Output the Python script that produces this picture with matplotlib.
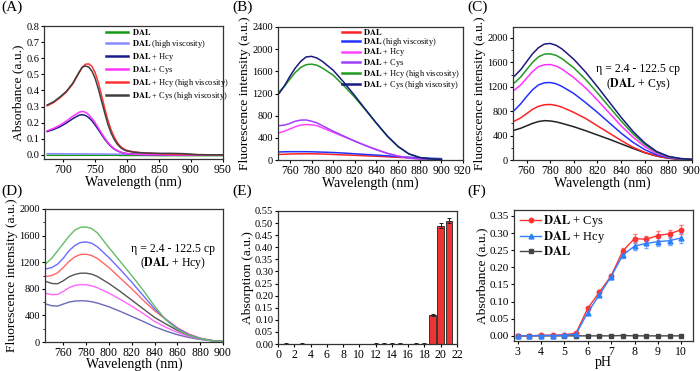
import matplotlib
matplotlib.use("Agg")
import matplotlib.pyplot as plt
from matplotlib.ticker import MultipleLocator

plt.rcParams['font.family'] = ['Liberation Serif', 'DejaVu Serif']
plt.rcParams['mathtext.fontset'] = 'stix'

# ---------------- Panel A data ----------------
wl_a = [675, 685, 695, 705, 715, 725, 730, 735, 740, 745, 750, 755, 760, 765, 770,
        775, 780, 785, 790, 795, 800, 810, 820, 830, 850, 870, 890, 910, 930, 950]
a_dal = [-0.002, -0.002, -0.002, -0.002, -0.002, -0.002, -0.002, -0.002, -0.002, -0.002,
         -0.002, -0.002, -0.002, -0.002, -0.002, -0.002, -0.002, -0.002, -0.003, -0.003,
         -0.003, -0.003, -0.003, -0.003, -0.004, -0.004, -0.004, -0.004, -0.004, -0.004]
a_dal_hv = [0.008, 0.008, 0.008, 0.007, 0.007, 0.007, 0.007, 0.007, 0.006, 0.006,
            0.006, 0.006, 0.006, 0.006, 0.005, 0.005, 0.005, 0.005, 0.005, 0.004,
            0.004, 0.004, 0.004, 0.003, 0.003, 0.002, 0.002, 0.001, 0.001, 0.001]
a_hcy = [0.145, 0.158, 0.175, 0.198, 0.225, 0.247, 0.250, 0.245, 0.232, 0.212,
         0.186, 0.157, 0.127, 0.098, 0.073, 0.052, 0.036, 0.025, 0.017, 0.011,
         0.008, 0.005, 0.003, 0.002, 0.001, 0.0, 0.0, 0.0, 0.0, 0.0]
a_cys = [0.150, 0.165, 0.185, 0.210, 0.240, 0.265, 0.270, 0.265, 0.250, 0.228,
         0.200, 0.168, 0.136, 0.105, 0.078, 0.056, 0.039, 0.027, 0.018, 0.012,
         0.008, 0.005, 0.003, 0.002, 0.001, 0.0, 0.0, 0.0, 0.0, 0.0]
a_hcy_hv = [0.305, 0.325, 0.355, 0.390, 0.440, 0.510, 0.545, 0.563, 0.565, 0.550,
            0.510, 0.450, 0.370, 0.290, 0.215, 0.155, 0.110, 0.075, 0.052, 0.037,
            0.028, 0.020, 0.015, 0.012, 0.008, 0.005, 0.003, 0.002, 0.001, 0.001]
a_cys_hv = [0.310, 0.330, 0.360, 0.395, 0.445, 0.515, 0.545, 0.552, 0.545, 0.520,
            0.475, 0.410, 0.335, 0.260, 0.190, 0.135, 0.095, 0.065, 0.045, 0.032,
            0.024, 0.017, 0.014, 0.012, 0.010, 0.010, 0.008, 0.002, 0.001, 0.001]

# ---------------- Panel B data ----------------
wl_b = [745, 750, 755, 760, 765, 770, 775, 780, 785, 790, 800, 810, 820, 830, 840,
        850, 860, 870, 880, 890, 900]
b_dal = [95, 100, 104, 108, 110, 112, 112, 112, 110, 108, 100, 92, 85, 76, 68, 58, 48, 38, 30, 22, 15]
b_dal_hv = [140, 145, 148, 150, 150, 150, 150, 148, 145, 142, 135, 125, 112, 100, 88, 75, 62, 50, 40, 32, 25]
b_hcy = [480, 490, 520, 560, 600, 630, 640, 635, 620, 580, 500, 420, 340, 260, 190, 120, 70, 35, 20, 10, 5]
b_cys = [640, 620, 630, 660, 700, 720, 722, 700, 670, 620, 520, 430, 340, 260, 185, 120, 70, 35, 20, 10, 5]
b_hcy_hv = [1180, 1230, 1330, 1460, 1580, 1670, 1720, 1730, 1710, 1660, 1530, 1340, 1130, 900,
            660, 430, 240, 110, 45, 20, 10]
b_cys_hv = [1110, 1200, 1340, 1510, 1660, 1780, 1860, 1870, 1840, 1780, 1620, 1400, 1160, 910,
            665, 435, 245, 110, 45, 20, 10]

# ---------------- Panel C data (DAL + Cys, increasing viscosity) ----------------
c_1 = [480, 490, 520, 560, 600, 630, 645, 640, 625, 600, 545, 480, 410, 340, 265, 190, 120, 65, 30, 12, 5]
c_2 = [620, 640, 690, 760, 830, 880, 905, 910, 895, 865, 780, 680, 560, 440, 320, 210, 125, 65, 30, 12, 5]
c_3 = [760, 820, 920, 1040, 1150, 1230, 1265, 1270, 1250, 1205, 1090, 940, 780, 610, 440, 290, 170, 85, 38, 15, 6]
c_4 = [1100, 1150, 1230, 1340, 1450, 1530, 1560, 1565, 1540, 1490, 1350, 1180, 980, 770, 560, 375, 220, 110, 48, 20, 8]
c_5 = [1210, 1270, 1360, 1480, 1600, 1690, 1735, 1740, 1715, 1660, 1510, 1320, 1100, 870, 640, 430, 255, 130, 55, 22, 10]
c_6 = [1320, 1380, 1480, 1610, 1740, 1840, 1900, 1910, 1880, 1820, 1650, 1440, 1200, 950, 700, 470, 280, 140, 60, 25, 10]

# ---------------- Panel D data (DAL + Hcy, increasing viscosity) ----------------
d_1 = [570, 545, 540, 570, 600, 615, 620, 618, 605, 585, 530, 460, 385, 310, 230, 165, 110, 68, 38, 18, 8]
d_2 = [730, 712, 715, 760, 815, 850, 862, 860, 845, 815, 735, 640, 540, 430, 310, 220, 145, 85, 45, 20, 8]
d_3 = [910, 880, 875, 920, 980, 1015, 1035, 1035, 1020, 985, 880, 760, 630, 500, 370, 270, 175, 100, 52, 22, 8]
d_4 = [985, 1000, 1040, 1120, 1210, 1280, 1315, 1320, 1300, 1255, 1120, 960, 800, 630, 470, 340, 215, 120, 58, 24, 8]
d_5 = [1100, 1120, 1170, 1260, 1370, 1450, 1495, 1505, 1485, 1430, 1270, 1090, 900, 700, 500, 340, 205, 110, 55, 22, 8]
d_6 = [1180, 1260, 1370, 1480, 1590, 1680, 1725, 1730, 1705, 1640, 1420, 1210, 1000, 780, 540, 330, 190, 100, 50, 20, 8]

# ---------------- Panel E data ----------------
e_idx = list(range(1, 22))
e_val = [0.002, 0.001, 0.002, 0.001, 0.001, 0.001, 0.001, 0.001, 0.0, 0.001, 0.001,
         0.002, 0.002, 0.002, 0.002, 0.001, 0.002, 0.002, 0.120, 0.490, 0.510]
e_err = [0.001] * 18 + [0.003, 0.010, 0.010]

# ---------------- Panel F data ----------------
ph = [3, 3.5, 4, 4.5, 5, 5.5, 6, 6.5, 7, 7.5, 8, 8.5, 9, 9.5, 10]
f_cys = [0.000, 0.000, 0.002, 0.002, 0.003, 0.008, 0.080, 0.128, 0.175, 0.248, 0.284, 0.282, 0.293, 0.298, 0.310]
f_cys_err = [0.001, 0.001, 0.001, 0.001, 0.001, 0.002, 0.004, 0.005, 0.006, 0.010, 0.012, 0.011, 0.012, 0.012, 0.013]
f_hcy = [0.000, 0.000, 0.001, 0.001, 0.002, 0.005, 0.068, 0.120, 0.173, 0.236, 0.262, 0.270, 0.275, 0.278, 0.286]
f_hcy_err = [0.001, 0.001, 0.001, 0.001, 0.001, 0.002, 0.004, 0.005, 0.006, 0.010, 0.012, 0.013, 0.013, 0.012, 0.014]
f_dal = [0.000, 0.000, 0.000, 0.000, 0.000, 0.000, 0.000, 0.000, 0.000, 0.001, 0.000, 0.000, 0.000, 0.000, 0.000]

legend_labels = [r'$\mathbf{DAL}$', r'$\mathbf{DAL}$ (high viscosity)', r'$\mathbf{DAL}$ + Hcy',
                 r'$\mathbf{DAL}$ + Cys', r'$\mathbf{DAL}$ + Hcy (high viscosity)',
                 r'$\mathbf{DAL}$ + Cys (high viscosity)']

W, H = 700, 371
fig = plt.figure(figsize=(7.0, 3.71), dpi=100)


def box(l, r, t, b):
    return fig.add_axes([l / W, 1 - b / H, (r - l) / W, (b - t) / H])


def style(ax, fsy=7.5, fsx=8.5):
    ax.tick_params(direction='out', length=2.5, width=0.8, pad=1.0, top=False, right=False)
    ax.tick_params(axis='x', labelsize=fsx)
    ax.tick_params(axis='y', labelsize=fsy)
    for s in ax.spines.values():
        s.set_linewidth(0.9)
        s.set_color('#333333')


XL = 10.0
YL = 9.7

# ----- A -----
axA = box(44, 223, 26, 159)
colsA = ['#159a15', '#8a8aff', '#1c1c8c', '#ff33ff', '#ff3333', '#404040']
for ys, c, lab in zip([a_dal, a_dal_hv, a_hcy, a_cys, a_hcy_hv, a_cys_hv], colsA, legend_labels):
    axA.plot(wl_a, ys, color=c, lw=1.1, label=lab)
axA.set_xlim(670, 950)
axA.set_ylim(-0.025, 0.8)
axA.xaxis.set_major_locator(MultipleLocator(50))
axA.yaxis.set_major_locator(MultipleLocator(0.1))
axA.yaxis.set_major_formatter(plt.FormatStrFormatter('%.1f'))
style(axA)
axA.set_xlabel('Wavelength (nm)', fontsize=XL, labelpad=0)
axA.set_ylabel('Absorbance (a.u.)', fontsize=YL, labelpad=1)
lg = axA.legend(loc='upper left', bbox_to_anchor=(0.346, 0.99), fontsize=6, frameon=False,
                handlelength=2.64, labelspacing=0.12, borderaxespad=0, borderpad=0,
                handletextpad=0.48)
for l in lg.get_lines():
    l.set_linewidth(1.8)

# ----- B -----
axB = box(278, 463, 27, 160)
colsB = ['#ff2222', '#2233ff', '#ff44ff', '#a040ff', '#229922', '#1a1a80']
for ys, c, lab in zip([b_dal, b_dal_hv, b_hcy, b_cys, b_hcy_hv, b_cys_hv], colsB, legend_labels):
    axB.plot(wl_b, ys, color=c, lw=1.1, label=lab)
axB.set_xlim(749, 920)
axB.set_ylim(0, 2400)
axB.xaxis.set_major_locator(MultipleLocator(20))
axB.yaxis.set_major_locator(MultipleLocator(400))
style(axB)
axB.set_xlabel('Wavelength (nm)', fontsize=XL, labelpad=0)
axB.set_ylabel('Fluorescence intensity (a.u.)', fontsize=YL, labelpad=1)
lg = axB.legend(loc='upper left', bbox_to_anchor=(0.346, 1.0), fontsize=6, frameon=False,
                handlelength=2.16, labelspacing=-0.15, borderaxespad=0, borderpad=0,
                handletextpad=0.36)
for l in lg.get_lines():
    l.set_linewidth(1.8)

# ----- C -----
axC = box(513, 692, 27, 160)
colsC = ['#222222', '#ff2222', '#2233ff', '#ff33ff', '#229922', '#1a1a80']
for ys, c in zip([c_1, c_2, c_3, c_4, c_5, c_6], colsC):
    axC.plot(wl_b, ys, color=c, lw=1.1)
axC.set_xlim(748.5, 900)
axC.set_ylim(0, 2180)
axC.xaxis.set_major_locator(MultipleLocator(20))
axC.yaxis.set_major_locator(MultipleLocator(400))
axC.yaxis.set_minor_locator(MultipleLocator(200))
style(axC)
axC.tick_params(which='minor', direction='out', length=1.5, width=0.6, right=False)
axC.set_xlabel('Wavelength (nm)', fontsize=XL, labelpad=0)
axC.set_ylabel('Fluorescence intensity (a.u.)', fontsize=YL, labelpad=1)
axC.text(0.70, 0.66, 'η = 2.4 - 122.5 cp', transform=axC.transAxes, ha='center', fontsize=8.5)
axC.text(0.70, 0.55, r'($\mathbf{DAL}$ + Cys)', transform=axC.transAxes, ha='center', fontsize=8.5)

# ----- D -----
axD = box(45, 223, 209, 342)
colsD = ['#6a6ab8', '#ff66ff', '#555555', '#ff6666', '#6b6bff', '#66bb66']
for ys, c in zip([d_1, d_2, d_3, d_4, d_5, d_6], colsD):
    axD.plot(wl_b, ys, color=c, lw=1.0)
axD.set_xlim(744, 900)
axD.set_ylim(0, 2000)
axD.xaxis.set_major_locator(MultipleLocator(20))
axD.yaxis.set_major_locator(MultipleLocator(400))
axD.yaxis.set_minor_locator(MultipleLocator(200))
style(axD)
axD.tick_params(which='minor', direction='out', length=1.5, width=0.6, right=False)
axD.set_xlabel('Wavelength (nm)', fontsize=XL, labelpad=-1)
axD.set_ylabel('Fluorescence intensity (a.u.)', fontsize=YL, labelpad=1)
axD.text(0.72, 0.68, 'η = 2.4 - 122.5 cp', transform=axD.transAxes, ha='center', fontsize=8.5)
axD.text(0.72, 0.57, r'($\mathbf{DAL}$ + Hcy)', transform=axD.transAxes, ha='center', fontsize=8.5)

# ----- E -----
axE = box(278, 457, 211, 344)
axE.bar(e_idx, e_val, width=0.8, color='#ee3333', edgecolor='#222222', linewidth=0.6,
        yerr=e_err, error_kw=dict(ecolor='#222222', elinewidth=0.7, capsize=1.5, capthick=0.7))
axE.set_xlim(0, 22)
axE.set_ylim(0, 0.55)
axE.xaxis.set_major_locator(MultipleLocator(2))
axE.yaxis.set_major_locator(MultipleLocator(0.05))
axE.yaxis.set_major_formatter(plt.FormatStrFormatter('%.2f'))
style(axE)
axE.set_ylabel('Absorption (a.u.)', fontsize=YL, labelpad=1)

# ----- F -----
axF = box(514, 693, 210, 341)
h_cys = axF.errorbar(ph, f_cys, yerr=f_cys_err, color='#ff3333', marker='o', ms=3.2, lw=1.0,
                     elinewidth=0.7, capsize=1.5, ecolor='#ff7777')
h_hcy = axF.errorbar(ph, f_hcy, yerr=f_hcy_err, color='#2f80ff', marker='^', ms=3.5, lw=1.0,
                     elinewidth=0.7, capsize=1.5, ecolor='#6fa8ff')
h_dal, = axF.plot(ph, f_dal, color='#444444', marker='s', ms=3.0, lw=1.0)
axF.set_xlim(2.85, 10.5)
axF.set_ylim(-0.015, 0.3675)
axF.xaxis.set_major_locator(MultipleLocator(1))
axF.yaxis.set_major_locator(MultipleLocator(0.05))
axF.yaxis.set_major_formatter(plt.FormatStrFormatter('%.2f'))
style(axF, fsy=8.0)
axF.set_xlabel('pH', fontsize=XL, labelpad=-1)
axF.set_ylabel('Absorbance (a.u.)', fontsize=YL, labelpad=1)
axF.legend([h_cys[0], h_hcy[0], h_dal],
           [r'$\mathbf{DAL}$ + Cys', r'$\mathbf{DAL}$ + Hcy', r'$\mathbf{DAL}$'],
           loc='upper left', bbox_to_anchor=(0.034, 0.975), fontsize=9, frameon=False,
           handlelength=1.7, labelspacing=0.0, borderaxespad=0, borderpad=0,
           handletextpad=0.15)

# panel letters
for txt, x, y in [('(A)', 1, 1), ('(B)', 232, 1), ('(C)', 467, 1),
                  ('(D)', 1, 185), ('(E)', 232, 185), ('(F)', 467, 185)]:
    fig.text(x / W, 1 - y / H, txt, fontsize=11, ha='left', va='top')

fig.savefig('out.png', dpi=100)
